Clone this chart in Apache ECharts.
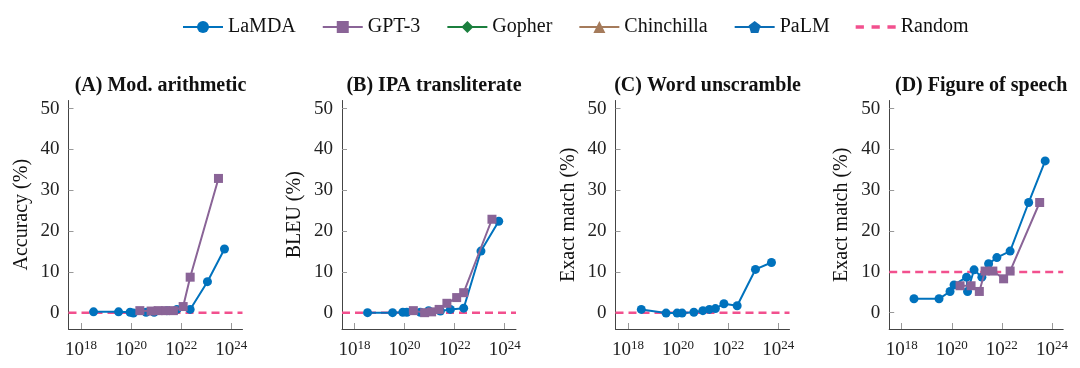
<!DOCTYPE html>
<html>
<head>
<meta charset="utf-8">
<script src="https://cdn.jsdelivr.net/npm/echarts@6/dist/echarts.min.js"></script>
<style>
html,body{margin:0;padding:0;background:#fff;}
#chart{width:1080px;height:368px;}
</style>
</head>
<body>
<div id="chart"></div>
<script>
// ---- data (x values are log10 of training FLOPs) ----
const panelTitles = ['(A) Mod. arithmetic', '(B) IPA transliterate', '(C) Word unscramble', '(D) Figure of speech'];
const yAxisNames = ['Accuracy (%)', 'BLEU (%)', 'Exact match (%)', 'Exact match (%)'];
const xTickExponents = [18, 20, 22, 24];
const yTicks = [0, 10, 20, 30, 40, 50];
const randomBaseline = [0, 0, 0, 10];

const lamdaA_x = [18.5, 19.5, 19.96, 20.09, 20.6, 20.92, 21.43, 21.83, 22.36, 23.05, 23.73];
const lamdaA_y = [0.2, 0.2, 0.1, -0.1, 0.1, 0.1, 0.5, 0.8, 0.8, 7.6, 15.6];
const gpt3A_x = [20.35, 20.8, 21.08, 21.38, 21.69, 22.08, 22.36, 23.49];
const gpt3A_y = [0.5, 0.4, 0.5, 0.5, 0.5, 1.5, 8.7, 32.9];

const lamdaB_x = [18.52, 19.52, 19.93, 20.09, 20.63, 20.96, 21.43, 21.83, 22.36, 23.05, 23.76];
const lamdaB_y = [0, 0, 0.1, 0.1, 0.1, 0.5, 0.4, 0.8, 1.1, 15.1, 22.4];
const gpt3B_x = [20.35, 20.8, 21.08, 21.38, 21.69, 22.08, 22.36, 23.49];
const gpt3B_y = [0.5, 0, 0.2, 0.8, 2.3, 3.7, 4.9, 22.9];

const lamdaC_x = [18.53, 19.52, 19.96, 20.16, 20.63, 20.99, 21.25, 21.49, 21.83, 22.36, 23.09, 23.73];
const lamdaC_y = [0.8, -0.1, -0.1, -0.1, 0.1, 0.5, 0.8, 1.0, 2.2, 1.7, 10.6, 12.3];

const lamdaD_x = [18.49, 19.49, 19.93, 20.09, 20.59, 20.63, 20.89, 21.2, 21.47, 21.8, 22.33, 23.07, 23.73];
const lamdaD_y = [3.4, 3.4, 5.2, 6.8, 8.7, 5.2, 10.5, 8.7, 12.0, 13.5, 15.1, 27.0, 37.2];
const gpt3D_x = [20.33, 20.77, 21.1, 21.33, 21.64, 22.07, 22.33, 23.51];
const gpt3D_y = [6.6, 6.6, 5.2, 10.2, 10.2, 8.3, 10.2, 27.0];

const lamdaX = [lamdaA_x, lamdaB_x, lamdaC_x, lamdaD_x];
const lamdaY = [lamdaA_y, lamdaB_y, lamdaC_y, lamdaD_y];
const gpt3X = [gpt3A_x, gpt3B_x, null, gpt3D_x];
const gpt3Y = [gpt3A_y, gpt3B_y, null, gpt3D_y];

// ---- styling ----
const FONT = 'Liberation Serif';
const C_LAMDA = '#0072BD';
const C_GPT3 = '#8A6497';
const C_GOPHER = '#1B7F3E';
const C_CHIN = '#A57B5B';
const C_PALM = '#0B6DB5';
const C_RANDOM = '#F2508E';
const X_MIN = 17.5, X_MAX = 24.45, Y_MIN = -4, Y_MAX = 52;
const gridLefts = [68.5, 342, 615.5, 889.2];
const GRID_W = 174, GRID_TOP = 100.5, GRID_H = 228.5;
const pentagon = 'path://M0,-10 L9.51,-3.09 L5.88,8.09 L-5.88,8.09 L-9.51,-3.09 Z';
const dashIcon = 'path://M0,0h7v3h-7z M13.5,0h7v3h-7z M27,0h7v3h-7z';

const zip = (xs, ys) => xs.map((x, i) => [x, ys[i]]);

const grids = [], xAxes = [], yAxes = [], titles = [], series = [];
for (let i = 0; i < 4; i++) {
  grids.push({left: gridLefts[i], top: GRID_TOP, width: GRID_W, height: GRID_H});
  titles.push({
    text: panelTitles[i], left: gridLefts[i] + GRID_W / 2, top: 71, textAlign: 'center',
    textStyle: {fontFamily: FONT, fontWeight: 'bold', fontSize: 20, color: '#111'}
  });
  xAxes.push({
    type: 'value', gridIndex: i, min: X_MIN, max: X_MAX,
    axisLine: {show: true, onZero: false, lineStyle: {color: '#444', width: 1}},
    splitLine: {show: false},
    axisTick: {show: true, inside: true, length: 6, customValues: xTickExponents, lineStyle: {color: '#999'}},
    axisLabel: {
      customValues: xTickExponents, margin: 10,
      formatter: v => '{b|10}{s|' + v + '}',
      rich: {
        b: {fontFamily: FONT, fontSize: 19, color: '#222', lineHeight: 22},
        s: {fontFamily: FONT, fontSize: 13, color: '#222', lineHeight: 13, verticalAlign: 'top'}
      }
    }
  });
  yAxes.push({
    type: 'value', gridIndex: i, min: Y_MIN, max: Y_MAX,
    name: yAxisNames[i], nameLocation: 'middle', nameGap: 37,
    nameTextStyle: {fontFamily: FONT, fontSize: 20, color: '#111'},
    axisLine: {show: true, onZero: false, lineStyle: {color: '#444', width: 1}},
    splitLine: {show: false},
    axisTick: {show: true, inside: true, length: 5, customValues: yTicks, lineStyle: {color: '#999'}},
    axisLabel: {customValues: yTicks, margin: 9, fontFamily: FONT, fontSize: 19, color: '#222'}
  });

  series.push({
    name: 'Random', type: 'line', xAxisIndex: i, yAxisIndex: i, z: 1,
    data: [[X_MIN, randomBaseline[i]], [X_MAX, randomBaseline[i]]],
    symbol: 'none', color: C_RANDOM,
    lineStyle: {color: C_RANDOM, width: 2.5, type: [8, 5]}, silent: true
  });
  series.push({
    name: 'LaMDA', type: 'line', xAxisIndex: i, yAxisIndex: i, z: 3,
    data: zip(lamdaX[i], lamdaY[i]),
    symbol: 'circle', symbolSize: 9, color: C_LAMDA,
    itemStyle: {color: C_LAMDA}, lineStyle: {color: C_LAMDA, width: 2}
  });
  if (gpt3X[i]) {
    series.push({
      name: 'GPT-3', type: 'line', xAxisIndex: i, yAxisIndex: i, z: 4,
      data: zip(gpt3X[i], gpt3Y[i]),
      symbol: 'rect', symbolSize: 9, color: C_GPT3,
      itemStyle: {color: C_GPT3}, lineStyle: {color: C_GPT3, width: 2}
    });
  }
}
// legend-only families (no points in these four panels)
series.push({name: 'GPT-3', type: 'line', xAxisIndex: 2, yAxisIndex: 2, data: [], symbol: 'rect', color: C_GPT3, lineStyle: {color: C_GPT3, width: 2}});
series.push({name: 'Gopher', type: 'line', xAxisIndex: 0, yAxisIndex: 0, data: [], symbol: 'diamond', color: C_GOPHER, lineStyle: {color: C_GOPHER, width: 2}});
series.push({name: 'Chinchilla', type: 'line', xAxisIndex: 0, yAxisIndex: 0, data: [], symbol: 'triangle', color: C_CHIN, lineStyle: {color: C_CHIN, width: 2}});
series.push({name: 'PaLM', type: 'line', xAxisIndex: 0, yAxisIndex: 0, data: [], symbol: pentagon, color: C_PALM, lineStyle: {color: C_PALM, width: 2}});

const chart = echarts.init(document.getElementById('chart'), null, {renderer: 'canvas'});
chart.setOption({
  backgroundColor: '#fff',
  animation: false,
  title: titles,
  legend: {
    data: ['LaMDA', 'GPT-3', 'Gopher', 'Chinchilla', 'PaLM',
      {name: 'Random', icon: dashIcon, itemStyle: {color: C_RANDOM}}],
    left: 177, top: 12, itemWidth: 40, itemHeight: 15, itemGap: 26,
    textStyle: {fontFamily: FONT, fontSize: 20, color: '#111'}
  },
  grid: grids,
  xAxis: xAxes,
  yAxis: yAxes,
  series: series
});
</script>
</body>
</html>
